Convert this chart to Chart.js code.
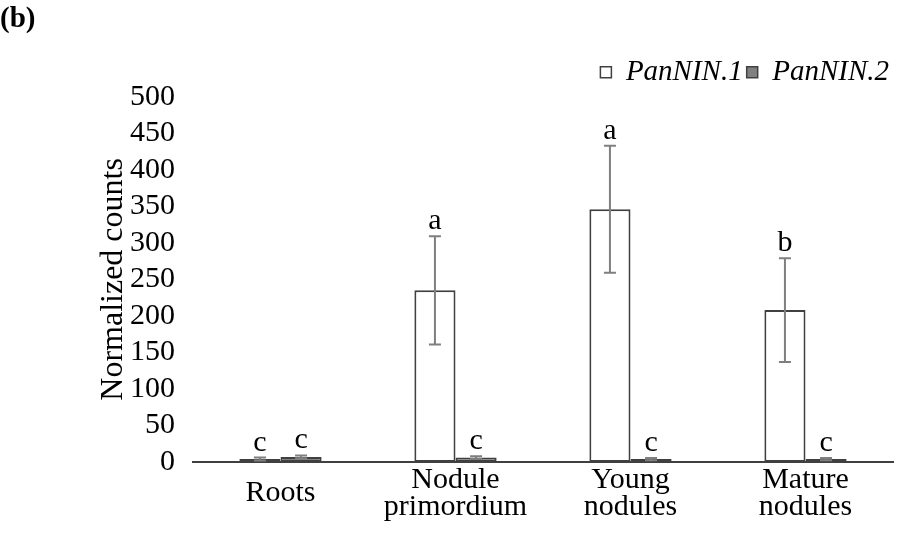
<!DOCTYPE html>
<html>
<head>
<meta charset="utf-8">
<script src="https://cdn.jsdelivr.net/npm/chart.js@4"></script>
<style>
  html, body { margin: 0; padding: 0; background: #fff; }
  #wrap { width: 899px; height: 550px; }
</style>
</head>
<body>
<div id="wrap"><canvas id="chart" width="899" height="550"></canvas></div>
<script>
const categories = ["Roots", ["Nodule", "primordium"], ["Young", "nodules"], ["Mature", "nodules"]];
const seriesNames = ["PanNIN.1", "PanNIN.2"];
const nin1 = [4, 235, 346, 208];
const nin1Err = [2, 74, 87, 71];
const nin1Letters = ["c", "a", "a", "b"];
const nin2 = [7, 6, 4, 4];
const nin2Err = [2, 2, 1.5, 1.5];
const nin2Letters = ["c", "c", "c", "c"];
const yTicks = [0, 50, 100, 150, 200, 250, 300, 350, 400, 450, 500];

const FONT = "'Liberation Serif', 'Times New Roman', serif";
const errs = [nin1Err, nin2Err];
const letters = [nin1Letters, nin2Letters];

// error bars + significance letters, placed through the scales
const errorBars = {
  id: "errorBars",
  afterDatasetsDraw(chart) {
    const ctx = chart.ctx;
    const y = chart.scales.y;
    chart.data.datasets.forEach((ds, di) => {
      const meta = chart.getDatasetMeta(di);
      meta.data.forEach((bar, i) => {
        const v = ds.data[i];
        const e = errs[di][i];
        const top = y.getPixelForValue(v + e);
        const bot = y.getPixelForValue(Math.max(0, v - e));
        ctx.save();
        ctx.strokeStyle = "#7f7f7f";
        ctx.lineWidth = 2;
        ctx.beginPath();
        ctx.moveTo(bar.x, top);
        ctx.lineTo(bar.x, bot);
        ctx.moveTo(bar.x - 6, top);
        ctx.lineTo(bar.x + 6, top);
        ctx.moveTo(bar.x - 6, bot);
        ctx.lineTo(bar.x + 6, bot);
        ctx.stroke();
        ctx.fillStyle = "#000";
        ctx.font = "30px " + FONT;
        ctx.textAlign = "center";
        ctx.textBaseline = "alphabetic";
        ctx.fillText(letters[di][i], bar.x, top - 7);
        ctx.restore();
      });
    });
  },
};

new Chart(document.getElementById("chart"), {
  type: "bar",
  data: {
    labels: categories,
    datasets: [
      {
        label: seriesNames[0],
        data: nin1,
        backgroundColor: "#ffffff",
        borderColor: "#404040",
        borderWidth: 2,
        borderSkipped: false,
      },
      {
        label: seriesNames[1],
        data: nin2,
        backgroundColor: "#808080",
        borderColor: "#404040",
        borderWidth: 2,
        borderSkipped: false,
      },
    ],
  },
  options: {
    responsive: false,
    animation: false,
    devicePixelRatio: 1,
    datasets: { bar: { categoryPercentage: 0.47, barPercentage: 1 } },
    layout: { padding: { left: 0, right: 6, top: 0, bottom: 0 } },
    plugins: {
      tooltip: { enabled: false },
      title: {
        display: true,
        text: "(b)",
        align: "start",
        color: "#000",
        font: { family: FONT, size: 29, weight: "bold" },
        padding: { top: 2, bottom: 17 },
      },
      legend: {
        position: "top",
        align: "end",
        labels: {
          color: "#000",
          font: { family: FONT, size: 29, style: "italic" },
          boxWidth: 11,
          boxHeight: 11,
          padding: 4,
          generateLabels(chart) {
            return chart.data.datasets.map((ds, i) => ({
              text: ds.label,
              fillStyle: ds.backgroundColor,
              strokeStyle: "#404040",
              lineWidth: 1.5,
              fontColor: "#000",
              datasetIndex: i,
            }));
          },
        },
      },
    },
    scales: {
      x: {
        grid: { display: false, drawTicks: false },
        border: { display: true, color: "#404040", width: 2 },
        ticks: {
          color: "#000",
          padding: 18,
          maxRotation: 0,
          autoSkip: false,
          crossAlign: "center",
          font: { family: FONT, size: 30, lineHeight: 0.9 },
        },
        afterFit(scale) { scale.height = 88; },
      },
      y: {
        min: 0,
        max: 500,
        afterBuildTicks(scale) { scale.ticks = yTicks.map((v) => ({ value: v })); },
        grid: { display: false, drawTicks: false },
        border: { display: false },
        ticks: {
          color: "#000",
          padding: 18,
          autoSkip: false,
          font: { family: FONT, size: 30 },
        },
        title: {
          display: true,
          text: "Normalized counts",
          color: "#000",
          font: { family: FONT, size: 32 },
          padding: { top: 94, bottom: 0 },
        },
        afterFit(scale) { scale.width = 193; },
      },
    },
  },
  plugins: [errorBars],
});
</script>
</body>
</html>
